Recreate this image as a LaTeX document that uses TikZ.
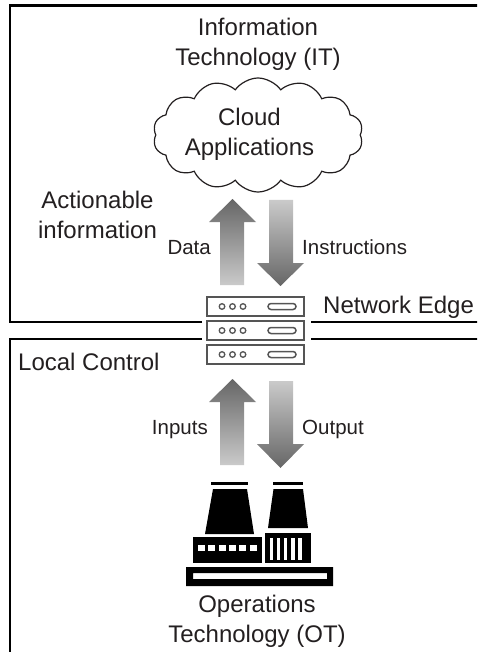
\documentclass[tikz,border=0pt]{standalone}
\usepackage{fontspec}
\setmainfont{Liberation Sans}
\usetikzlibrary{shapes.symbols}
\definecolor{ink}{HTML}{231F20}
\definecolor{rack}{HTML}{555555}
\definecolor{adark}{HTML}{666666}
\definecolor{alight}{HTML}{CACACA}

\begin{document}
\begin{tikzpicture}[x=1pt,y=-1pt,
    big/.style={font=\fontsize{24}{30}\selectfont,text=ink,inner sep=0pt,align=center},
    small/.style={font=\fontsize{20.5}{25}\selectfont,text=ink,inner sep=0pt},
    frame/.style={line width=2.5pt,black},
    unit/.style={draw=rack,line width=1.8pt}]
    \useasboundingbox (0,0) rectangle (477,652);
    \clip (0,0) rectangle (477,652);

    % the two zones, broken where the edge rack sits
    \draw[frame] (202,322) -| (10,5.5) -- (500,5.5);
    \draw[frame] (311,322) -- (500,322);
    \draw[frame] (202,339) -| (10,700);
    \draw[frame] (311,339) -- (500,339);

    % IT side
    \node[big,anchor=north] (it) at (258,17.5) {Information\\Technology (IT)};
    \node[cloud,draw=ink,line width=1.2pt,cloud puffs=14,cloud puff arc=110,
        aspect=1.85,minimum width=210pt,minimum height=114pt,inner sep=0pt]
        (cloud) at (258,135) {};
    \node[big,anchor=north] (cloudtext) at (249.5,107.5) {Cloud\\Applications};
    \node[big,anchor=north] (action) at (97.5,190.5) {Actionable\\information};

    % up / down between cloud and edge
    \shade[top color=adark,bottom color=alight] (220,285) -- (220,222) -- (209,222)
        -- (232.5,199) -- (256,222) -- (244,222) -- (244,285) -- cycle;
    \shade[top color=alight,bottom color=adark] (269,200) -- (269,263) -- (257,263)
        -- (280.5,286) -- (304,263) -- (293,263) -- (293,200) -- cycle;
    \node[small,anchor=base east] (data) at (211,254) {Data};
    \node[small,anchor=base west] (instr) at (302,254) {Instructions};

    % edge rack
    \node[minimum width=97pt,minimum height=68pt,inner sep=0pt] (edge) at (255.5,331) {};
    \foreach \y in {297,321,345} {
        \draw[unit] (207,\y) rectangle (304,\y+19);
        \foreach \x in {222,232.5,243}
            \draw[rack,line width=1.3pt] (\x,\y+9.5) circle (2.8);
        \draw[rack,line width=1.5pt,rounded corners=3pt] (268,\y+6.5) rectangle (296,\y+12.5);
    }
    \node[big,anchor=base west] (edgelabel) at (323,313) {Network Edge};

    % OT side
    \node[big,anchor=base west] (local) at (18,370) {Local Control};
    \shade[top color=adark,bottom color=alight] (220,465) -- (220,402) -- (209,402)
        -- (232.5,379) -- (256,402) -- (244,402) -- (244,465) -- cycle;
    \shade[top color=alight,bottom color=adark] (269,381) -- (269,444) -- (257,444)
        -- (280.5,468) -- (304,444) -- (293,444) -- (293,381) -- cycle;
    \node[small,anchor=base east] (inputs) at (208,434) {Inputs};
    \node[small,anchor=base west] (output) at (302,434) {Output};

    % plant
    \node[minimum width=147pt,minimum height=104pt,inner sep=0pt] (plant) at (259.5,534.5) {};
    \fill[black] (211,482) rectangle (248,484.5);
    \fill[black] (273,482) rectangle (303,484.5);
    \fill[black] (213,489) -- (247,489) -- (254,534) -- (205,534) -- cycle;
    \fill[black] (273.5,489) -- (303,489) -- (308,528) -- (268,528) -- cycle;
    \fill[black] (193,537) rectangle (262,563);
    \foreach \i in {0,...,5}
        \fill[white] ({198+10.3*\i},545) rectangle ({205+10.3*\i},551);
    \fill[black] (265,533) rectangle (311,563);
    \foreach \i in {0,...,4}
        \fill[white] ({269.5+7.2*\i},538) rectangle ({273+7.2*\i},560);
    \fill[black,even odd rule] (186,567) rectangle (333,586) (193,573) rectangle (327,579);
    \node[big,anchor=north] (ot) at (257,594.5) {Operations\\Technology (OT)};
\end{tikzpicture}
\end{document}
